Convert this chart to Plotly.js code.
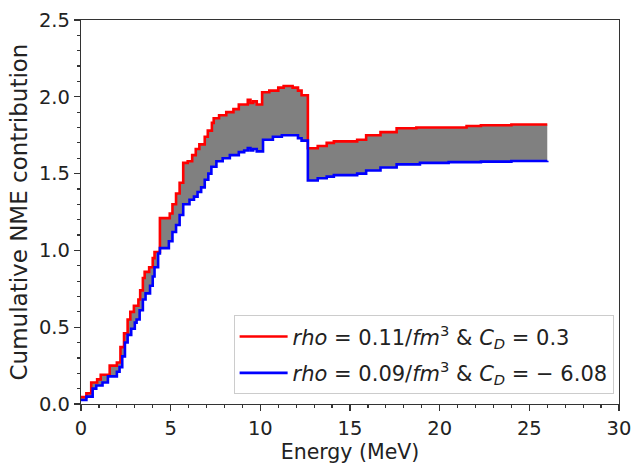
<!DOCTYPE html>
<html>
<head>
<meta charset="utf-8">
<script src="https://cdn.plot.ly/plotly-3.0.1.min.js"></script>
<style>html,body{margin:0;padding:0;background:#fff;}#chart{width:633px;height:465px;}</style>
</head>
<body>
<div id="chart"></div>
<script>
// Upper curve (rho = 0.11/fm^3, C_D = 0.3)
var redEnergy = [0, 0.3, 0.57, 0.9, 1.1, 1.6, 2.0, 2.2, 2.4, 2.6, 2.75, 2.95, 3.2, 3.3, 3.45, 3.55, 3.8, 4.0, 4.1, 4.4, 4.95, 5.1, 5.3, 5.5, 5.7, 5.95, 6.2, 6.4, 6.6, 6.9, 7.07, 7.3, 7.4, 7.7, 8.1, 8.5, 8.8, 9.3, 9.45, 9.6, 9.8, 10.1, 10.5, 11.0, 11.3, 11.8, 12.1, 12.3, 12.65, 13.2, 13.7, 14.1, 15.4, 15.9, 16.7, 17.6, 18.7, 20.0, 21.5, 22.3, 24.0, 26.0];
var redValue = [0.045, 0.07, 0.14, 0.16, 0.19, 0.25, 0.27, 0.37, 0.46, 0.55, 0.60, 0.64, 0.68, 0.74, 0.82, 0.86, 0.89, 0.95, 0.99, 1.21, 1.24, 1.30, 1.37, 1.44, 1.57, 1.58, 1.62, 1.66, 1.69, 1.74, 1.78, 1.83, 1.86, 1.88, 1.90, 1.92, 1.95, 1.98, 1.96, 1.97, 1.95, 2.03, 2.04, 2.06, 2.07, 2.06, 2.04, 2.01, 1.665, 1.68, 1.70, 1.71, 1.72, 1.75, 1.77, 1.795, 1.80, 1.80, 1.81, 1.815, 1.82, 1.82];
// Lower curve (rho = 0.09/fm^3, C_D = -6.08)
var blueEnergy = [0, 0.3, 0.65, 0.85, 1.2, 1.5, 2.0, 2.15, 2.3, 2.45, 2.6, 2.8, 3.0, 3.1, 3.27, 3.45, 3.6, 3.85, 4.0, 4.1, 4.3, 4.4, 4.9, 5.1, 5.3, 5.5, 5.7, 6.05, 6.3, 6.5, 6.7, 6.9, 7.1, 7.27, 7.55, 7.9, 8.3, 8.8, 9.1, 9.3, 9.45, 9.6, 9.8, 10.15, 10.7, 11.2, 11.9, 12.1, 12.3, 12.65, 13.2, 13.7, 14.1, 15.4, 15.9, 16.7, 17.6, 18.9, 20.5, 22.3, 24.0, 26.0];
var blueValue = [0.026, 0.048, 0.10, 0.12, 0.14, 0.18, 0.21, 0.24, 0.31, 0.40, 0.45, 0.49, 0.53, 0.55, 0.61, 0.68, 0.72, 0.77, 0.83, 0.89, 0.98, 1.015, 1.06, 1.12, 1.165, 1.23, 1.30, 1.33, 1.35, 1.38, 1.41, 1.46, 1.50, 1.545, 1.58, 1.60, 1.62, 1.64, 1.65, 1.667, 1.65, 1.66, 1.645, 1.72, 1.74, 1.75, 1.75, 1.73, 1.715, 1.455, 1.47, 1.48, 1.49, 1.50, 1.52, 1.54, 1.56, 1.57, 1.575, 1.578, 1.582, 1.584];

var redLabel = '<i>rho</i> = 0.11/<i>fm</i><sup>3</sup> & <i>C<sub>D</sub></i> = 0.3';
var blueLabel = '<i>rho</i> = 0.09/<i>fm</i><sup>3</sup> & <i>C<sub>D</sub></i> = − 6.08';

var traces = [
  // fill band (no legend)
  {x: redEnergy, y: redValue, mode: 'lines', showlegend: false, hoverinfo: 'skip',
   line: {color: 'rgba(0,0,0,0)', width: 0, shape: 'hv'}},
  {x: blueEnergy, y: blueValue, mode: 'lines', showlegend: false, hoverinfo: 'skip',
   line: {color: 'rgba(0,0,0,0)', width: 0, shape: 'hv'},
   fill: 'tonexty', fillcolor: '#808080'},
  // curves
  {x: redEnergy, y: redValue, name: redLabel, mode: 'lines', legendgroup: 'a',
   line: {color: '#ff0000', width: 2.6, shape: 'hv'}},
  {x: blueEnergy, y: blueValue, name: blueLabel, mode: 'lines', legendgroup: 'b',
   line: {color: '#0000ff', width: 2.6, shape: 'hv'}}
];

var axisCommon = {
  showgrid: false, zeroline: false, showline: true, mirror: true,
  linecolor: '#333', linewidth: 1.2,
  ticks: 'outside', ticklen: 6, tickwidth: 1.2, tickcolor: '#333',
  tickfont: {size: 19.5, color: '#222'}
};

var layout = {
  width: 633, height: 465,
  margin: {l: 81, r: 14, t: 20, b: 61},
  paper_bgcolor: '#fff', plot_bgcolor: '#fff',
  font: {family: 'DejaVu Sans', color: '#222'},
  xaxis: Object.assign({}, axisCommon, {
    range: [0, 30], dtick: 5, tick0: 0,
    minor: {dtick: 1, ticks: 'outside', ticklen: 3, tickcolor: '#333'},
    title: {text: 'Energy (MeV)', font: {size: 20.5}, standoff: 0}
  }),
  yaxis: Object.assign({}, axisCommon, {
    range: [0, 2.5], dtick: 0.5, tick0: 0, tickformat: '.1f',
    minor: {dtick: 0.1, ticks: 'outside', ticklen: 3, tickcolor: '#333'},
    title: {text: 'Cumulative NME contribution', font: {size: 23}, standoff: 4}
  }),
  showlegend: true,
  legend: {x: 0.99, y: 0.025, xanchor: 'right', yanchor: 'bottom',
    traceorder: 'grouped', tracegroupgap: 6, itemwidth: 48,
    bgcolor: 'rgba(255,255,255,0.9)', bordercolor: '#ccc', borderwidth: 1,
    font: {size: 21, color: '#222'}}
};

Plotly.newPlot('chart', traces, layout, {displayModeBar: false, staticPlot: true});
</script>
</body>
</html>
